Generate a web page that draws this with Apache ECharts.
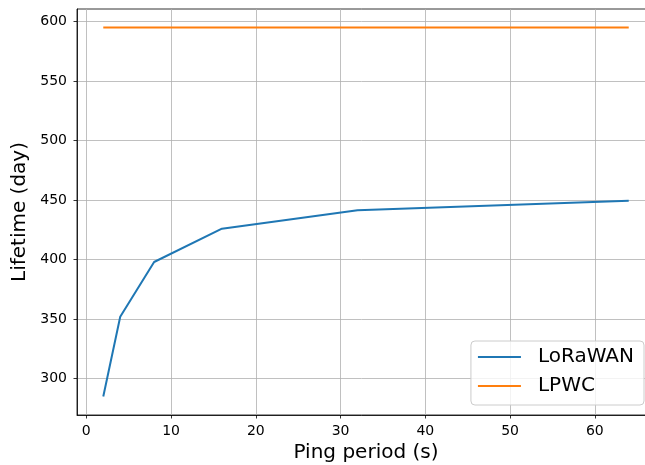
<!DOCTYPE html>
<html>
<head>
<meta charset="utf-8">
<script src="https://cdn.jsdelivr.net/npm/echarts@6/dist/echarts.min.js"></script>
<style>html,body{margin:0;padding:0;background:#fff}#c{width:645px;height:465px}</style>
</head>
<body>
<div id="c"></div>
<script>
const pingPeriods = [2, 4, 8, 16, 32, 64];
const lorawan = [285, 352, 398, 426, 441.5, 449.5];
const lpwc = [595, 595, 595, 595, 595, 595];
const xTicks = [0, 10, 20, 30, 40, 50, 60];
const yTicks = [300, 350, 400, 450, 500, 550, 600];

const font = 'DejaVu Sans';
const chart = echarts.init(document.getElementById('c'), null, {renderer: 'canvas'});
const pair = (xs, ys) => xs.map((x, i) => [x, ys[i]]);

chart.setOption({
  animation: false,
  backgroundColor: '#fff',
  grid: {left: 77, right: -10, top: 9, bottom: 50, show: true, borderColor: '#000', borderWidth: 0.8, backgroundColor: 'transparent', containLabel: false, outerBoundsMode: 'none'},
  xAxis: {
    type: 'value', min: -1.1, max: 67.1,
    name: 'Ping period (s)', nameLocation: 'middle', nameGap: 28,
    nameTextStyle: {fontFamily: font, fontSize: 20, color: '#000'},
    axisLine: {show: true, onZero: false, lineStyle: {color: '#000', width: 0.8}},
    axisTick: {show: true, length: 3.5, lineStyle: {color: '#000', width: 0.8}, customValues: xTicks},
    axisLabel: {fontFamily: font, fontSize: 14, color: '#000', margin: 9, customValues: xTicks},
    splitLine: {show: true, lineStyle: {color: '#b0b0b0', width: 0.8}}
  },
  yAxis: {
    type: 'value', min: 269.5, max: 610.5,
    name: 'Lifetime (day)', nameLocation: 'middle', nameGap: 47, nameRotate: 90,
    nameTextStyle: {fontFamily: font, fontSize: 20, color: '#000'},
    axisLine: {show: true, onZero: false, lineStyle: {color: '#000', width: 0.8}},
    axisTick: {show: true, length: 3.5, lineStyle: {color: '#000', width: 0.8}, customValues: yTicks},
    axisLabel: {fontFamily: font, fontSize: 14, color: '#000', margin: 10, customValues: yTicks},
    splitLine: {show: true, lineStyle: {color: '#b0b0b0', width: 0.8}}
  },
  legend: {
    orient: 'vertical', right: 1, bottom: 60,
    data: [{name: 'LoRaWAN', icon: 'rect'}, {name: 'LPWC', icon: 'rect'}],
    itemWidth: 43, itemHeight: 2, itemGap: 9,
    padding: [6, 10, 9, 7],
    borderColor: '#cccccc', borderWidth: 1, borderRadius: 4,
    backgroundColor: 'rgba(255,255,255,0.8)',
    textStyle: {fontFamily: font, fontSize: 20, color: '#000', lineHeight: 20, padding: [0, 0, 0, 12]}
  },
  series: [
    {name: 'LoRaWAN', type: 'line', data: pair(pingPeriods, lorawan), symbol: 'none', color: '#1f77b4', lineStyle: {width: 2, color: '#1f77b4'}},
    {name: 'LPWC', type: 'line', data: pair(pingPeriods, lpwc), symbol: 'none', color: '#ff7f0e', lineStyle: {width: 2, color: '#ff7f0e'}}
  ]
});
</script>
</body>
</html>
